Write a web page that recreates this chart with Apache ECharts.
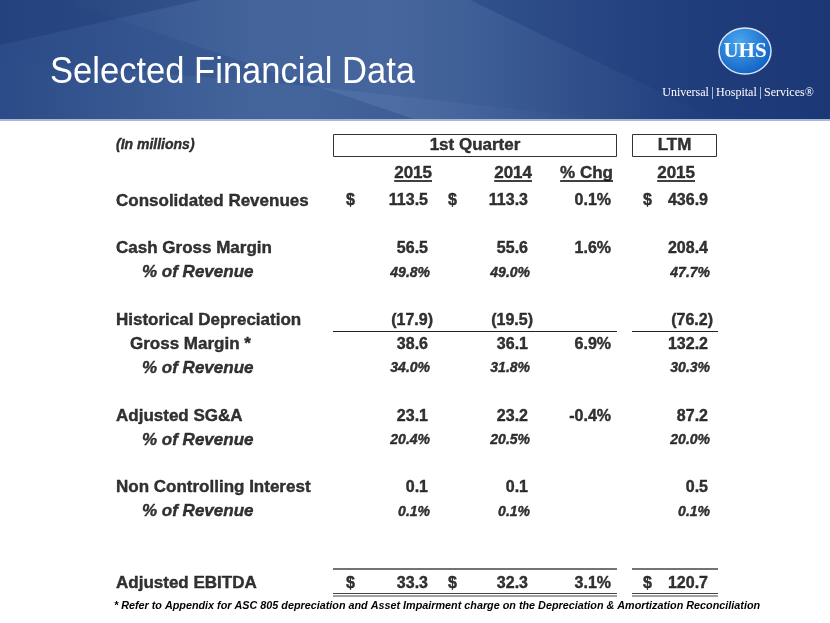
<!DOCTYPE html>
<html><head><meta charset="utf-8">
<script src="https://cdn.jsdelivr.net/npm/echarts@6/dist/echarts.min.js"></script>
<style>html,body{margin:0;padding:0;background:#fff}#c{width:830px;height:623px}</style>
</head><body><div id="c"></div>
<script>
// ---- data ----
const rowLabels = ['Consolidated Revenues','','Cash Gross Margin','% of Revenue','','Historical Depreciation','Gross Margin *','% of Revenue','','Adjusted SG&A','% of Revenue','','Non Controlling Interest','% of Revenue','','','Adjusted EBITDA'];
const rowKind   = ['main','blank','main','pct','blank','main','main','pct','blank','main','pct','blank','main','pct','blank','blank','main'];
const q1_2015   = [113.5,null,56.5,49.8,null,-17.9,38.6,34.0,null,23.1,20.4,null,0.1,0.1,null,null,33.3];
const q1_2014   = [113.3,null,55.6,49.0,null,-19.5,36.1,31.8,null,23.2,20.5,null,0.1,0.1,null,null,32.3];
const pctChg    = [0.1,null,1.6,null,null,null,6.9,null,null,-0.4,null,null,null,null,null,null,3.1];
const ltm_2015  = [436.9,null,208.4,47.7,null,-76.2,132.2,30.3,null,87.2,20.0,null,0.5,0.1,null,null,120.7];
const dollarRows = ['Consolidated Revenues','Adjusted EBITDA'];
const groupHeaders = ['1st Quarter','LTM'];
const colHeaders = ['2015','2014','% Chg','2015'];
const unitNote = '(In millions)';
const title = 'Selected Financial Data';
const footnote = '* Refer to Appendix for ASC 805 depreciation and Asset Impairment charge on the Depreciation & Amortization Reconciliation';

// ---- layout ----
const FONT = '"Liberation Sans", Arial, sans-serif';
const colX = {q15: 428, q14: 528, chg: 611, ltm: 708};
const dollarX = {q15: 346, q14: 448, ltm: 643};
const labelX = {main: 116, indent: 130, pct: 142};
const headerRowY = -2.33, yearRowY = -1.15;

const chart = echarts.init(document.getElementById('c'), null, {renderer: 'canvas'});

function fmtMain(v){ return v < 0 ? '(' + Math.abs(v).toFixed(1) + ')' : v.toFixed(1); }
const baseLabel = {show: true, color: '#000', fontWeight: 'bold', fontFamily: FONT,
  textBorderColor: '#000', textBorderWidth: 0.4, textShadowBlur: 0};
function numSeries(arr, x, pctIsChg){
  const data = [];
  arr.forEach((v, i) => {
    if (v === null) return;
    const kind = rowKind[i];
    let text, lbl;
    if (pctIsChg) {
      text = v.toFixed(1) + '%';
      lbl = {fontSize: 16, fontStyle: 'normal'};
    } else if (kind === 'pct') {
      text = v.toFixed(1) + '%';
      lbl = {fontSize: 14, fontStyle: 'italic', offset: [2, 0]};
    } else {
      text = fmtMain(v);
      lbl = {fontSize: 16, fontStyle: 'normal', offset: [v < 0 ? 5 : 0, 0]};
    }
    lbl.formatter = text;
    data.push({value: [x, i], label: lbl});
  });
  return {
    type: 'scatter', symbolSize: 0, silent: true, data,
    label: Object.assign({}, baseLabel, {position: 'left', distance: 0})
  };
}

const labelData = [];
rowLabels.forEach((t, i) => {
  if (!t) return;
  const kind = rowKind[i];
  let x = labelX.main, style = 'normal';
  if (kind === 'pct') { x = labelX.pct; style = 'italic'; }
  else if (t === 'Gross Margin *') x = labelX.indent;
  labelData.push({value: [x, i], label: {formatter: t, fontStyle: style}});
});

const dollarData = [];
rowLabels.forEach((t, i) => {
  if (dollarRows.indexOf(t) < 0) return;
  dollarData.push({value: [dollarX.q15, i]}, {value: [dollarX.q14, i]}, {value: [dollarX.ltm, i]});
});

const headerData = [
  {value: [(333 + 617) / 2, headerRowY], label: {formatter: groupHeaders[0], align: 'center', fontSize: 17}},
  {value: [(632 + 717) / 2, headerRowY], label: {formatter: groupHeaders[1], align: 'center', fontSize: 17}},
  {value: [116, headerRowY], label: {formatter: unitNote, align: 'left', fontSize: 14, fontStyle: 'italic'}},
  {value: [432, yearRowY], label: {formatter: colHeaders[0], align: 'right'}},
  {value: [532, yearRowY], label: {formatter: colHeaders[1], align: 'right'}},
  {value: [613, yearRowY], label: {formatter: colHeaders[2], align: 'right'}},
  {value: [695, yearRowY], label: {formatter: colHeaders[3], align: 'right'}}
];

const cv = document.createElement('canvas').getContext('2d');
cv.font = 'bold 17px ' + FONT;
const yearRights = [432, 532, 613, 695];

function fade(x, y, x2, y2, c, a){
  return {type: 'linear', x, y, x2, y2, colorStops: [
    {offset: 0, color: 'rgba(' + c + ',0)'}, {offset: 0.5, color: 'rgba(' + c + ',' + a + ')'}, {offset: 1, color: 'rgba(' + c + ',0)'}]};
}

function buildGraphics(){
  const g = [];
  g.push({type: 'rect', z: -10, shape: {x: 0, y: 0, width: 830, height: 121},
    style: {fill: {type: 'linear', x: 0, y: 0, x2: 1, y2: 0, colorStops: [
      {offset: 0, color: '#2b4b88'}, {offset: 0.3, color: '#3a5b93'}, {offset: 0.55, color: '#32538d'},
      {offset: 0.8, color: '#213f7d'}, {offset: 1, color: '#1c3775'}]}}});
  g.push({type: 'polygon', z: -9, shape: {points: [[60,0],[470,0],[720,121],[420,121]]},
    style: {fill: fade(0, 0, 1, 0, '130,160,205', 0.22)}});
  g.push({type: 'polygon', z: -9, shape: {points: [[0,60],[300,85],[620,121],[0,121]]},
    style: {fill: fade(0, 0, 1, 0, '140,170,215', 0.14)}});
  g.push({type: 'polygon', z: -9, shape: {points: [[0,0],[200,0],[0,45]]},
    style: {fill: 'rgba(15,35,90,0.22)'}});
  g.push({type: 'rect', z: -8, shape: {x: 0, y: 119, width: 830, height: 2}, style: {fill: '#a9b9d1'}});
  // title
  g.push({type: 'text', x: 50, y: 73, scaleX: 0.96, style: {text: title, fill: '#fff', font: '36px ' + FONT, textVerticalAlign: 'middle'}});
  // logo
  g.push({type: 'ellipse', shape: {cx: 745, cy: 51, rx: 26, ry: 23},
    style: {fill: {type: 'radial', x: 0.4, y: 0.3, r: 0.8, colorStops: [{offset: 0, color: '#4aa6ee'}, {offset: 1, color: '#0b5cc0'}]},
      stroke: '#d8e6f6', lineWidth: 1.5}});
  g.push({type: 'text', x: 745, y: 52, style: {text: 'UHS', fill: '#fff', font: 'bold 21px "Liberation Serif", "DejaVu Serif", serif',
    textAlign: 'center', textVerticalAlign: 'middle'}});
  g.push({type: 'text', x: 738, y: 93, style: {text: 'Universal\u2009|\u2009Hospital\u2009|\u2009Services\u00ae', fill: '#fff',
    font: '12px "Liberation Serif", "DejaVu Serif", serif', textAlign: 'center', textVerticalAlign: 'middle'}});
  // boxes
  g.push({type: 'rect', shape: {x: 333.5, y: 134.5, width: 283, height: 22}, style: {fill: 'none', stroke: '#333', lineWidth: 1}});
  g.push({type: 'rect', shape: {x: 632.5, y: 134.5, width: 84, height: 22}, style: {fill: 'none', stroke: '#333', lineWidth: 1}});
  // year underlines
  colHeaders.forEach((t, k) => {
    const w = cv.measureText(t).width;
    g.push({type: 'line', shape: {x1: yearRights[k] - w, y1: 181, x2: yearRights[k], y2: 181}, style: {stroke: '#000', lineWidth: 1.5}});
  });
  // line above gross margin
  g.push({type: 'line', shape: {x1: 333, y1: 331.5, x2: 617, y2: 331.5}, style: {stroke: '#222', lineWidth: 1}});
  g.push({type: 'line', shape: {x1: 632, y1: 331.5, x2: 718, y2: 331.5}, style: {stroke: '#222', lineWidth: 1}});
  // EBITDA lines
  [[333, 617], [632, 718]].forEach(([a, b]) => {
    g.push({type: 'line', shape: {x1: a, y1: 569, x2: b, y2: 569}, style: {stroke: '#444', lineWidth: 1.6}});
    g.push({type: 'line', shape: {x1: a, y1: 593.5, x2: b, y2: 593.5}, style: {stroke: '#444', lineWidth: 1}});
    g.push({type: 'line', shape: {x1: a, y1: 596, x2: b, y2: 596}, style: {stroke: '#444', lineWidth: 1}});
  });
  // footnote
  g.push({type: 'text', x: 437, y: 606, style: {text: footnote, fill: '#000', font: 'italic bold 10.8px ' + FONT,
    textAlign: 'center', textVerticalAlign: 'middle'}});
  return g;
}

chart.setOption({
  animation: false,
  backgroundColor: '#ffffff',
  grid: {left: 0, right: 0, top: 129.3, bottom: 15.7},
  xAxis: {type: 'value', min: 0, max: 830, show: false},
  yAxis: {type: 'value', min: -3, max: 17, inverse: true, show: false},
  graphic: buildGraphics(),
  series: [
    {type: 'scatter', symbolSize: 0, silent: true, data: labelData,
      label: Object.assign({}, baseLabel, {position: 'right', distance: 0, fontSize: 17})},
    {type: 'scatter', symbolSize: 0, silent: true, data: dollarData,
      label: Object.assign({}, baseLabel, {position: 'right', distance: 0, formatter: '$', fontSize: 16})},
    {type: 'scatter', symbolSize: 0, silent: true, data: headerData,
      label: Object.assign({}, baseLabel, {position: 'inside', verticalAlign: 'middle', fontSize: 17})},
    numSeries(q1_2015, colX.q15, false),
    numSeries(q1_2014, colX.q14, false),
    numSeries(pctChg, colX.chg, true),
    numSeries(ltm_2015, colX.ltm, false)
  ]
});
</script></body></html>
